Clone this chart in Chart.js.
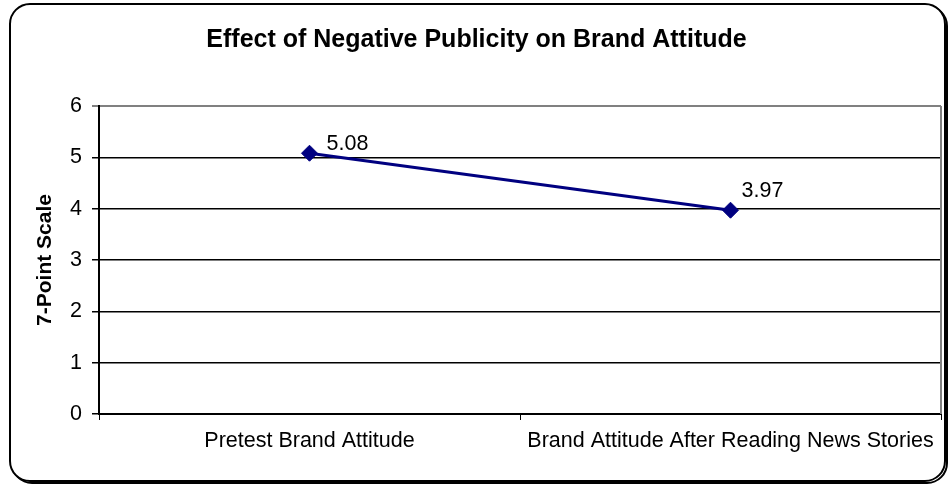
<!DOCTYPE html>
<html>
<head>
<meta charset="utf-8">
<title>Effect of Negative Publicity on Brand Attitude</title>
<script src="https://cdn.jsdelivr.net/npm/chart.js@4"></script>
<style>
  html, body { margin: 0; padding: 0; background: #fff; }
  #wrap { width: 950px; height: 486px; }
</style>
</head>
<body>
<div id="wrap"><canvas id="brandChart" width="950" height="486"></canvas></div>
<script>
// ============================
// Chart data
// ============================
const categories = ["Pretest Brand Attitude", "Brand Attitude After Reading News Stories"];
const attitudeScores = [5.08, 3.97];
const yTicks = [0, 1, 2, 3, 4, 5, 6];

const FONT = "'Liberation Sans', Arial, sans-serif";

// ============================
// Outer rounded frame (under everything) + right edge of plot
// ============================
const framePlugin = {
  id: "frame",
  beforeDraw(chart) {
    const ctx = chart.ctx;
    ctx.save();
    ctx.fillStyle = "#fff";
    ctx.fillRect(0, 0, chart.width, chart.height);

    // shadow then border
    const x = 10, y = 4, w = 935, h = 477, r = 20;
    ctx.lineWidth = 2;
    ctx.strokeStyle = "#000";
    ctx.beginPath();
    ctx.roundRect(x + 2, y + 2, w, h, r);
    ctx.stroke();
    ctx.fillStyle = "#fff";
    ctx.beginPath();
    ctx.roundRect(x, y, w, h, r);
    ctx.fill();
    ctx.stroke();
    ctx.restore();
  },
  beforeDatasetsDraw(chart) {
    const ctx = chart.ctx;
    const a = chart.chartArea;
    ctx.save();
    // gray right edge of the plot area
    ctx.strokeStyle = "#808080";
    ctx.lineWidth = 2;
    ctx.beginPath();
    ctx.moveTo(a.right, a.top);
    ctx.lineTo(a.right, a.bottom);
    ctx.stroke();
    ctx.restore();
  }
};

// ============================
// Value labels next to each point
// ============================
const valueLabels = {
  id: "valueLabels",
  afterDatasetsDraw(chart, args, opts) {
    const ctx = chart.ctx;
    ctx.save();
    ctx.font = "21.5px " + FONT;
    ctx.fillStyle = "#000";
    ctx.textAlign = "left";
    ctx.textBaseline = "alphabetic";
    chart.getDatasetMeta(0).data.forEach((pt, i) => {
      const off = opts.offsets[i] || [14, -6];
      ctx.fillText(attitudeScores[i].toFixed(2), pt.x + off[0], pt.y + off[1]);
    });
    ctx.restore();
  }
};

new Chart(document.getElementById("brandChart"), {
  type: "line",
  data: {
    labels: categories,
    datasets: [{
      data: attitudeScores,
      borderColor: "#000080",
      backgroundColor: "#000080",
      borderWidth: 3,
      pointStyle: "rectRot",
      pointRadius: 8,
      pointBorderWidth: 1,
      tension: 0
    }]
  },
  options: {
    responsive: false,
    animation: false,
    layout: { padding: { left: 10, right: 7, top: 10, bottom: 0 } },
    plugins: {
      legend: { display: false },
      tooltip: { enabled: false },
      title: {
        display: true,
        text: "Effect of Negative Publicity on Brand Attitude",
        color: "#000",
        font: { family: FONT, size: 25, weight: "bold", lineHeight: 1.2 },
        padding: { top: 15, bottom: 51 }
      },
      valueLabels: { offsets: [[17, -3], [11, -13]] }
    },
    scales: {
      x: {
        offset: true,
        grid: {
          display: true,
          drawOnChartArea: false,
          drawTicks: true,
          tickLength: 6,
          color: "#000",
          offset: true
        },
        border: { display: true, color: "#000", width: 2 },
        ticks: {
          color: "#000",
          font: { family: FONT, size: 21.5 },
          padding: 8,
          maxRotation: 0,
          autoSkip: false
        },
        afterFit(scale) { scale.height = 72; }
      },
      y: {
        min: 0,
        max: 6,
        afterBuildTicks(scale) { scale.ticks = yTicks.map(v => ({ value: v })); },
        grid: {
          color: ctx => (ctx.tick && ctx.tick.value === 6 ? "#808080" : "#000"),
          lineWidth: ctx => (ctx.tick && ctx.tick.value === 6 ? 2 : 1.5),
          tickLength: 7,
          drawTicks: true
        },
        border: { display: true, color: "#000", width: 2 },
        ticks: {
          color: "#000",
          font: { family: FONT, size: 21.5 },
          padding: 10
        },
        title: {
          display: true,
          text: "7-Point Scale",
          color: "#000",
          font: { family: FONT, size: 21, weight: "bold", lineHeight: 1.2 },
          padding: { top: 23, bottom: 0 }
        },
        afterFit(scale) { scale.width = 89; }
      }
    }
  },
  plugins: [framePlugin, valueLabels]
});
</script>
</body>
</html>
